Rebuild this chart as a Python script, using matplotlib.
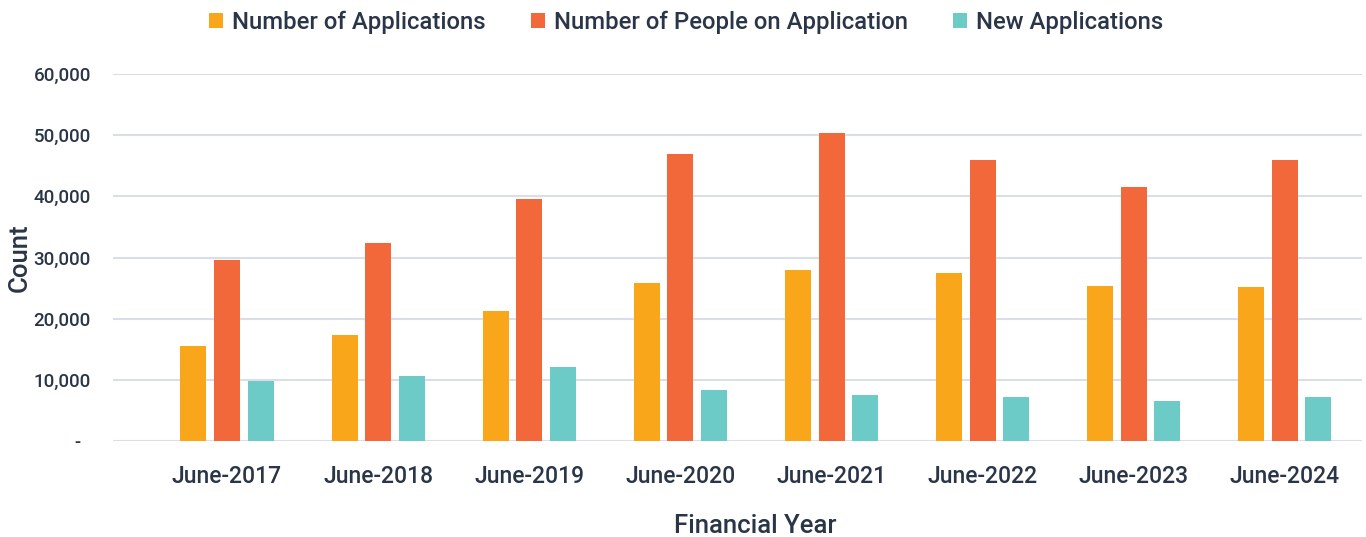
import matplotlib
matplotlib.use("Agg")
import matplotlib.pyplot as plt
from matplotlib.ticker import FuncFormatter
from matplotlib.patches import Patch
import numpy as np

categories = ["June-2017", "June-2018", "June-2019", "June-2020",
              "June-2021", "June-2022", "June-2023", "June-2024"]
num_applications = [15600, 17350, 21250, 25800, 27900, 27400, 25400, 25200]
num_people = [29600, 32450, 39500, 47000, 50300, 45900, 41500, 46000]
new_applications = [9750, 10600, 12150, 8300, 7500, 7250, 6550, 7250]
series_names = ["Number of Applications", "Number of People on Application", "New Applications"]
colors = ["#F9A61B", "#F3683A", "#6CCAC7"]

text_color = "#2B3548"
plt.rcParams['font.family'] = ['Roboto', 'DejaVu Sans']
WT = 'medium'

fig = plt.figure(figsize=(13.66, 5.37), dpi=100)
ax = fig.add_axes([113/1366, 1-441/537, (1362-113)/1366, (441-74)/537])

x = np.arange(len(categories))
w = 0.172
off = 0.222
for i, (vals, c) in enumerate(zip([num_applications, num_people, new_applications], colors)):
    ax.bar(x + (i-1)*off, vals, width=w, color=c, zorder=3, label=series_names[i])

ax.set_xlim(-0.754, 7.51)
ax.set_ylim(0, 60000)
ax.set_yticks(np.arange(0, 60001, 10000))
ax.yaxis.set_major_formatter(FuncFormatter(lambda v, p: "-  " if v == 0 else f"{int(v):,}"))
ax.grid(axis='y', color="#D9DEE8", linewidth=1.5, zorder=0)
ax.set_axisbelow(True)
for s in ax.spines.values():
    s.set_visible(False)
ax.tick_params(axis='both', length=0, colors=text_color)
ax.tick_params(axis='x', labelsize=16.5, pad=17)
ax.tick_params(axis='y', labelsize=13.5, pad=16)
ax.set_xticks(x)
ax.set_xticklabels(categories)
for lab in ax.get_xticklabels() + ax.get_yticklabels():
    lab.set_fontweight(WT)

ax.set_xlabel("Financial Year", fontsize=18.5, color=text_color, fontweight=WT)
ax.xaxis.set_label_coords((755-113)/(1362-113), (441-526)/(441-74), transform=ax.transAxes)
ax.set_ylabel("Count", fontsize=18.5, color=text_color, fontweight=WT)
ax.yaxis.set_label_coords((20-113)/(1362-113), 0.5, transform=ax.transAxes)
ax.xaxis.label.set_va('center')
ax.yaxis.label.set_va('center')

handles = [Patch(facecolor=c, edgecolor='none') for c in colors]
leg = fig.legend(handles, series_names, loc='center', bbox_to_anchor=(686/1366, 1-22/537),
                 ncol=3, frameon=False, fontsize=17.2, handlelength=0.6, handleheight=0.6,
                 handletextpad=0.35, columnspacing=1.9, borderpad=0)
for t in leg.get_texts():
    t.set_color(text_color)
    t.set_fontweight(WT)

fig.savefig("out.png", dpi=100, facecolor='white')
